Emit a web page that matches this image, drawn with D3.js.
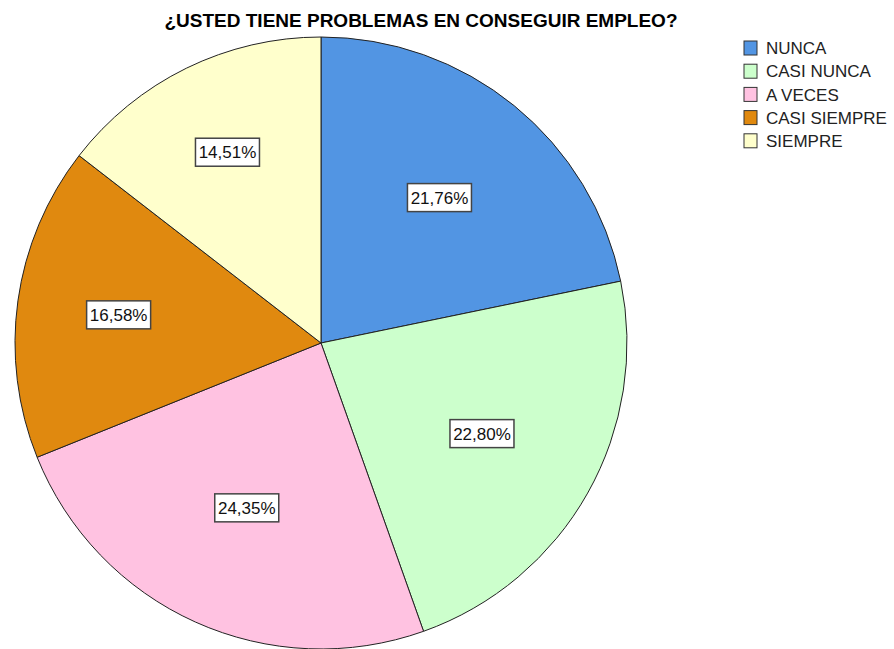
<!DOCTYPE html>
<meta charset="utf-8">
<style>
  body { margin: 0; background: #fff; }
  text { font-family: "Liberation Sans", Arial, sans-serif; }
</style>
<body>
<svg width="894" height="649"></svg>
<script src="https://cdn.jsdelivr.net/npm/d3@7"></script>
<script>

// data
var categories = ["NUNCA", "CASI NUNCA", "A VECES", "CASI SIEMPRE", "SIEMPRE"];
var percents   = [21.76, 22.80, 24.35, 16.58, 14.51];
var colors     = ["#5295E3", "#CCFFCC", "#FFC2E1", "#E0890F", "#FFFFCC"];

var svg = d3.select("svg"),
    cx = 321, cy = 343, radius = 306;

var data = categories.map(function(c, i) { return {cat: c, value: percents[i], color: colors[i]}; });

var pie = d3.pie()
    .sort(null)
    .value(function(d) { return d.value; });

var arc = d3.arc().innerRadius(0).outerRadius(radius);

// label sits at the centre of the biggest circle that fits in the slice
function labelPos(d) {
    var half = (d.endAngle - d.startAngle) / 2,
        mid = d.startAngle + half,
        dist = radius / (1 + Math.sin(half));
    return [Math.sin(mid) * dist, -Math.cos(mid) * dist];
}

var fmt = function(v) { return d3.format(".2f")(v).replace(".", ",") + "%"; };

// title
svg.append("text")
    .attr("x", 421)
    .attr("y", 27)
    .attr("text-anchor", "middle")
    .style("font-size", "19px")
    .style("font-weight", "bold")
    .text("¿USTED TIENE PROBLEMAS EN CONSEGUIR EMPLEO?");

var g = svg.append("g")
    .attr("transform", "translate(" + cx + "," + cy + ")");

var slices = g.selectAll(".slice")
    .data(pie(data))
    .enter().append("g")
    .attr("class", "slice");

slices.append("path")
    .attr("d", arc)
    .attr("fill", function(d) { return d.data.color; })
    .attr("stroke", "#222")
    .attr("stroke-width", 1);

// percentage labels in boxes
var labels = slices.append("g")
    .attr("transform", function(d) { return "translate(" + labelPos(d) + ")"; });

labels.append("rect")
    .attr("x", -32)
    .attr("y", -14)
    .attr("width", 64)
    .attr("height", 28)
    .attr("fill", "#fff")
    .attr("stroke", "#444")
    .attr("stroke-width", 1.5);

labels.append("text")
    .attr("text-anchor", "middle")
    .attr("dy", "0.36em")
    .style("font-size", "17px")
    .style("fill", "#111")
    .text(function(d) { return fmt(d.data.value); });

// legend
var legend = svg.append("g")
    .attr("transform", "translate(744,41)");

var rows = legend.selectAll(".row")
    .data(data)
    .enter().append("g")
    .attr("class", "row")
    .attr("transform", function(d, i) { return "translate(0," + (i * 23.2) + ")"; });

rows.append("rect")
    .attr("width", 13)
    .attr("height", 14)
    .attr("fill", function(d) { return d.color; })
    .attr("stroke", "#333");

rows.append("text")
    .attr("x", 22)
    .attr("y", 7)
    .attr("dy", "0.36em")
    .style("font-size", "17px")
    .style("fill", "#222")
    .text(function(d) { return d.cat; });

</script>
</body>
